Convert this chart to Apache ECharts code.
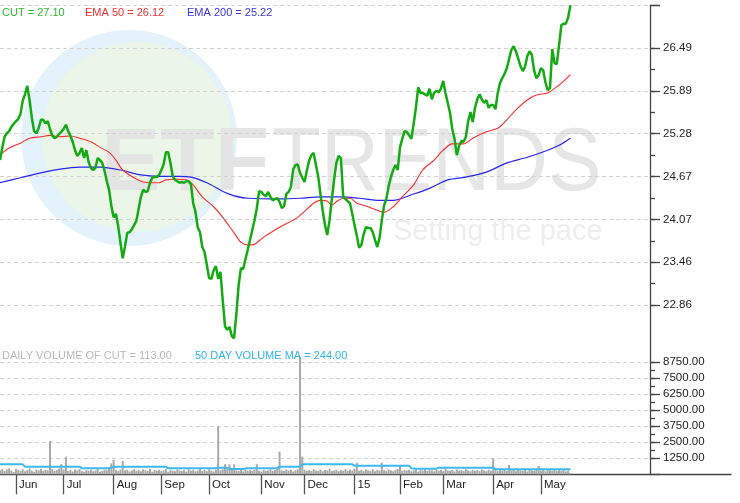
<!DOCTYPE html>
<html><head><meta charset="utf-8">
<script src="https://cdn.jsdelivr.net/npm/echarts@6/dist/echarts.min.js"></script>
<style>html,body{margin:0;padding:0;background:#fff}#c{width:740px;height:503px}</style>
</head><body><div id="c"></div>
<script>
// ---------- DATA ----------
const startDate = '2014-05-21';
const holidays = ['2014-05-26','2014-07-04','2014-09-01','2014-11-27','2014-12-25','2015-01-01','2015-01-19','2015-02-16','2015-04-03','2015-05-25','2015-07-03'];
const totalSlots = 287;
const monthTickLabels = ['15','Feb','Mar','Apr','May','Jun','Jul','Aug','Sep','Oct','Nov','Dec'];
const priceTickLabels = ['22.86','23.46','24.07','24.67','25.28','25.89','26.49',''];
const priceMin = 22.86, priceMax = 27.10;
const volumeMax = 8750, volumeStep = 1250;

const priceValues = [
24.91,25.08,25.24,25.29,25.32,25.38,25.42,25.46,25.49,25.56,
25.75,25.84,25.96,25.76,25.51,25.32,25.29,25.36,25.48,25.48,
25.43,25.46,25.35,25.26,25.22,25.24,25.28,25.31,25.35,25.41,
25.32,25.25,25.17,25.05,24.97,25.01,25.08,24.94,25.05,24.88,
24.80,24.77,24.80,24.94,24.91,24.87,24.76,24.61,24.49,24.26,
24.10,24.15,23.98,23.74,23.52,23.69,23.88,23.89,23.93,23.99,
24.05,24.22,24.39,24.49,24.46,24.47,24.59,24.66,24.67,24.67,
24.70,24.77,24.85,25.02,25.02,24.87,24.68,24.63,24.61,24.59,
24.60,24.59,24.61,24.61,24.57,24.30,24.18,23.96,23.89,23.68,
23.61,23.43,23.24,23.23,23.35,23.41,23.23,23.33,22.93,22.56,
22.51,22.55,22.42,22.39,22.73,23.14,23.38,23.37,23.51,23.64,
23.78,23.92,24.06,24.23,24.47,24.46,24.42,24.40,24.46,24.39,
24.34,24.36,24.37,24.32,24.23,24.26,24.43,24.46,24.53,24.78,
24.84,24.85,24.73,24.66,24.60,24.76,24.90,24.98,25.01,24.84,
24.68,24.43,24.19,23.99,23.85,24.06,24.36,24.63,24.87,24.97,
24.94,24.39,24.36,24.33,24.30,24.15,23.99,23.84,23.67,23.71,
23.86,23.96,23.95,23.95,23.89,23.78,23.68,23.81,24.06,24.27,
24.36,24.54,24.67,24.77,24.84,24.77,25.09,25.21,25.32,25.31,
25.26,25.21,25.42,25.65,25.94,25.86,25.86,25.84,25.82,25.92,
25.77,25.86,25.89,25.87,25.92,26.03,25.86,25.72,25.58,25.35,
25.21,24.98,25.11,25.18,25.17,25.24,25.46,25.59,25.45,25.65,
25.77,25.84,25.77,25.72,25.76,25.65,25.69,25.69,25.63,25.86,
26.00,26.07,26.13,26.21,26.34,26.47,26.52,26.45,26.35,26.24,
26.17,26.23,26.38,26.45,26.40,26.18,26.07,26.11,26.21,26.18,
26.01,25.90,25.93,26.48,26.28,26.27,26.54,26.82,26.84,26.84,
26.93,27.10];

const ema50Days   = [0,4,9,13,18,22,26,31,35,40,44,48,51,54,59,63,67,70,73,78,82,85,89,94,98,103,106,109,111,116,123,131,138,141,144,146,148,151,154,157,161,166,169,173,177,182,186,191,195,199,204,208,214,219,223,227,232,236,241,243,246,251];
const ema50Values = [24.98,25.08,25.15,25.22,25.24,25.26,25.24,25.25,25.22,25.17,25.09,25.02,24.91,24.77,24.66,24.60,24.59,24.59,24.63,24.64,24.63,24.56,24.39,24.25,24.10,23.88,23.75,23.71,23.71,23.82,23.96,24.10,24.30,24.34,24.33,24.27,24.32,24.37,24.37,24.30,24.26,24.20,24.17,24.25,24.39,24.56,24.77,24.91,25.05,25.14,25.14,25.22,25.31,25.36,25.48,25.62,25.76,25.83,25.86,25.90,25.97,26.12];

const ema200Days   = [0,9,18,26,35,44,53,62,70,79,84,91,100,109,123,132,141,150,158,167,173,182,189,197,205,214,223,232,241,246,251];
const ema200Values = [24.59,24.66,24.73,24.78,24.81,24.81,24.77,24.70,24.68,24.68,24.67,24.59,24.44,24.37,24.36,24.37,24.39,24.39,24.37,24.34,24.34,24.43,24.51,24.63,24.67,24.74,24.87,24.95,25.05,25.12,25.22];

const volumeValues = [
320,410,250,380,460,300,180,420,350,270,
390,240,330,460,280,200,370,310,430,260,
350,300,2600,410,280,330,450,800,390,1375,
260,340,220,380,300,410,250,180,330,280,
360,240,300,420,190,270,350,310,500,860,
1120,330,250,380,1040,290,360,220,310,400,
270,340,230,380,300,260,420,190,330,280,
360,250,300,410,200,340,280,230,370,310,
260,330,210,390,280,350,240,300,420,270,
330,250,380,290,220,360,3770,310,400,780,
450,780,380,780,300,260,340,230,390,280,
320,250,360,780,290,210,340,270,310,380,
260,330,420,1770,300,250,380,290,340,220,
310,400,9170,1380,360,280,330,250,400,300,
270,380,230,340,310,420,260,300,370,240,
330,280,400,260,350,300,420,900,280,340,
250,380,310,270,400,230,350,290,900,320,
260,380,300,240,350,410,700,270,330,290,
360,240,310,380,220,330,290,400,260,340,
300,230,370,280,350,250,410,300,270,340,
220,380,290,330,260,400,310,240,350,280,
330,260,390,300,240,360,280,1250,320,250,
340,290,400,260,730,310,350,240,380,300,
270,340,220,390,300,260,350,650,280,330,
240,370,300,270,400,250,340,290,360,220,
300,113];

const volMADays   = [0,10,11,35,36,48,49,51,73,74,95,96,100,101,107,108,122,123,132,133,155,156,180,181,183,192,193,217,218,251];
const volMAValues = [778,778,596,596,466,466,544,596,596,466,466,518,518,414,414,466,466,596,596,778,778,674,674,466,440,440,518,518,388,388];

const ema50Last = 26.12, ema200Last = 25.22, dailyVolumeLast = 113.00, volumeMALast = 244.00;

// ---------- BUILD ----------
function buildDays(start, count) {
  const out = [];
  const d = new Date(start + 'T00:00:00Z');
  while (out.length < count) {
    const s = d.toISOString().slice(0, 10);
    const wd = d.getUTCDay();
    if (wd !== 0 && wd !== 6 && holidays.indexOf(s) < 0) out.push(s);
    d.setUTCDate(d.getUTCDate() + 1);
  }
  return out;
}
const categories = buildDays(startDate, totalSlots);
function isMonthStart(i) {
  return i > 0 && i < priceValues.length && categories[i].slice(5, 7) !== categories[i - 1].slice(5, 7);
}
const pairs = (xs, ys) => xs.map((x, i) => [x, ys[i]]);
const priceStep = (priceMax - priceMin) / 7;

const FONT = 'Liberation Sans';
const AX = '#444';
const gridLine = { show: true, lineStyle: { color: '#d2d2d2', type: [4, 3], width: 1 } };
const helperX = (gi, withLine) => ({ gridIndex: gi, type: 'value', min: 0, max: 1,
  axisLine: { show: !!withLine, onZero: false, lineStyle: { color: AX, width: 1.3 } },
  axisTick: { show: false }, axisLabel: { show: false }, splitLine: { show: false } });

const chart = echarts.init(document.getElementById('c'), null, { renderer: 'canvas' });
chart.setOption({
  animation: false,
  backgroundColor: '#fff',
  grid: [
    { left: 0, top: 5.3, width: 650, height: 299.7 },
    { left: 0, top: 362.3, width: 650, height: 112 },
    { left: 0, top: 48.1, width: 650, height: 256.9 },
    { left: 0, top: 362.3, width: 650, height: 96 },
    { left: 0, top: 5.3, width: 731, height: 469 }
  ],
  xAxis: [
    { gridIndex: 0, type: 'category', data: categories, boundaryGap: false, show: false },
    { gridIndex: 1, type: 'category', data: categories, boundaryGap: false,
      axisLine: { show: false },
      axisTick: { show: true, interval: (i) => isMonthStart(i), length: 20, lineStyle: { color: '#555', width: 1.3 } },
      axisLabel: { interval: (i) => isMonthStart(i), formatter: (v) => monthTickLabels[+v.slice(5, 7) - 1],
        align: 'left', padding: [0, 0, 0, 3], margin: 5, color: '#222', fontSize: 11.5, fontFamily: FONT },
      splitLine: { show: false } },
    helperX(2, false),
    helperX(3, false),
    helperX(4, true)
  ],
  yAxis: [
    { gridIndex: 0, type: 'value', position: 'right', min: priceMin, max: priceMax, interval: priceStep,
      axisLine: { show: false, onZero: false },
      axisTick: { show: true, length: 10, lineStyle: { color: AX, width: 1.3 } },
      axisLabel: { margin: 13, color: '#222', fontSize: 11.5, fontFamily: FONT,
        formatter: (v) => priceTickLabels[Math.round((v - priceMin) / priceStep)] || '' },
      splitLine: gridLine },
    { gridIndex: 1, type: 'value', position: 'right', min: 0, max: volumeMax, interval: volumeStep,
      axisLine: { show: false, onZero: false },
      axisTick: { show: true, length: 10, lineStyle: { color: AX, width: 1.3 } },
      axisLabel: { margin: 13, color: '#222', fontSize: 11.5, fontFamily: FONT,
        formatter: (v) => v === 0 ? '' : v.toFixed(2) },
      splitLine: gridLine },
    { gridIndex: 2, type: 'value', position: 'right', min: 0, max: 12, interval: 1,
      axisLine: { show: false, onZero: false }, axisLabel: { show: false }, splitLine: { show: false },
      axisTick: { show: true, length: 5, lineStyle: { color: AX, width: 1.3 } } },
    { gridIndex: 3, type: 'value', position: 'right', min: 0, max: 12, interval: 1,
      axisLine: { show: false, onZero: false }, axisLabel: { show: false }, splitLine: { show: false },
      axisTick: { show: true, length: 5, lineStyle: { color: AX, width: 1.3 } } },
    { gridIndex: 4, type: 'value', position: 'right', offset: -81, min: 0, max: 1,
      axisLine: { show: true, onZero: false, lineStyle: { color: AX, width: 1.3 } },
      axisTick: { show: false }, axisLabel: { show: false }, splitLine: { show: false } }
  ],
  graphic: { elements: [
    { type: 'circle', shape: { cx: 129, cy: 138, r: 108 }, style: { fill: '#e3f2fb' }, z: -10, silent: true },
    { type: 'circle', shape: { cx: 137, cy: 137, r: 95 }, style: { fill: '#ebf6e8' }, z: -10, silent: true },
    { type: 'text', x: 101, y: 165, style: { text: 'ETF', font: 'bold 89px "Liberation Sans"', fill: '#e4e4e4', verticalAlign: 'middle' }, z: -9, silent: true },
    { type: 'text', x: 272, y: 165, scaleX: 0.9, style: { text: 'TRENDS', font: '89px "Liberation Sans"', fill: '#e6e6e6', verticalAlign: 'middle' }, z: -9, silent: true },
    { type: 'text', x: 393, y: 232, style: { text: 'Setting the pace', font: '29px "Liberation Sans"', fill: '#eeeeee', verticalAlign: 'middle' }, z: -9, silent: true },
    { type: 'text', x: 2, y: 12.5, style: { text: 'CUT = ' + priceValues[priceValues.length - 1].toFixed(2), font: '11px "Liberation Sans"', fill: '#2db82d', verticalAlign: 'middle' }, z: 20 },
    { type: 'text', x: 85, y: 12.5, style: { text: 'EMA 50 = ' + ema50Last.toFixed(2), font: '11px "Liberation Sans"', fill: '#f03030', verticalAlign: 'middle' }, z: 20 },
    { type: 'text', x: 187, y: 12.5, style: { text: 'EMA 200 = ' + ema200Last.toFixed(2), font: '11px "Liberation Sans"', fill: '#3434e8', verticalAlign: 'middle' }, z: 20 },
    { type: 'text', x: 2, y: 356, style: { text: 'DAILY VOLUME OF CUT = ' + dailyVolumeLast.toFixed(2), font: '11px "Liberation Sans"', fill: '#b8b8b8', verticalAlign: 'middle' }, z: 20 },
    { type: 'text', x: 195, y: 356, style: { text: '50 DAY VOLUME MA = ' + volumeMALast.toFixed(2), font: '11px "Liberation Sans"', fill: '#2eb2f0', verticalAlign: 'middle' }, z: 20 }
  ] },
  series: [
    { type: 'line', name: 'EMA 200', xAxisIndex: 0, yAxisIndex: 0, data: pairs(ema200Days, ema200Values),
      showSymbol: false, smooth: 0.3, lineStyle: { color: '#2626ee', width: 1.2 }, z: 3, clip: false },
    { type: 'line', name: 'EMA 50', xAxisIndex: 0, yAxisIndex: 0, data: pairs(ema50Days, ema50Values),
      showSymbol: false, smooth: 0.3, lineStyle: { color: '#ff2c2c', width: 1.1 }, z: 3, clip: false },
    { type: 'line', name: 'CUT', xAxisIndex: 0, yAxisIndex: 0, data: priceValues,
      showSymbol: false, lineStyle: { color: '#14aa14', width: 2.5 }, z: 4, clip: false },
    { type: 'bar', name: 'Volume', xAxisIndex: 1, yAxisIndex: 1, data: volumeValues,
      barWidth: 2, itemStyle: { color: '#a9a9a9' }, clip: false, z: 2 },
    { type: 'line', name: 'Volume MA', xAxisIndex: 1, yAxisIndex: 1, data: pairs(volMADays, volMAValues),
      showSymbol: false, lineStyle: { color: '#3cb9f2', width: 2 }, z: 3 }
  ]
});
</script></body></html>
